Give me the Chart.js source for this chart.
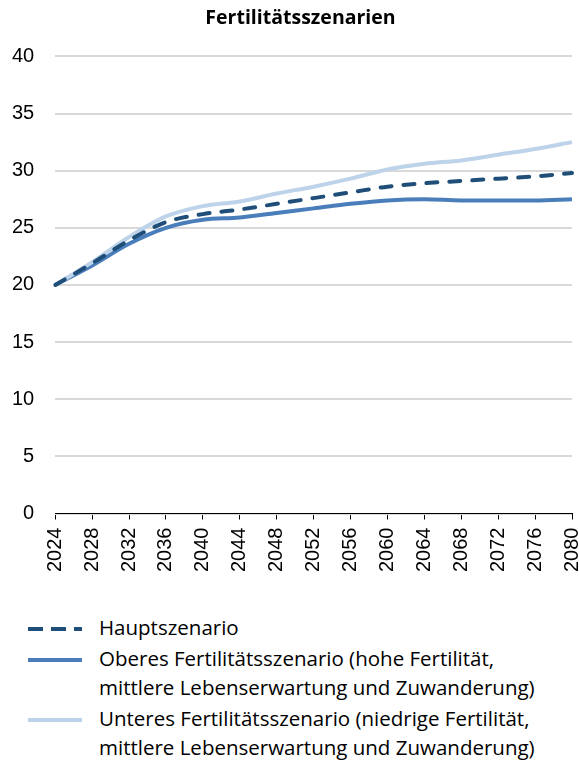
<!DOCTYPE html>
<html lang="de">
  <head>
    <meta charset="UTF-8" />
    <title>Fertilitätsszenarien</title>
    <script src="https://cdn.jsdelivr.net/npm/chart.js"></script>
    <style>
      body {
        margin: 0;
        background: #fff;
        width: 579px;
        height: 764px;
        overflow: hidden;
        position: relative;
      }
      .chart-box {
        position: absolute;
        left: -19px;
        top: 0;
        width: 623px;
        height: 600px;
      }
      .legend {
        position: absolute;
        left: 28px;
        top: 613px;
        font-family: "Open Sans", sans-serif;
        font-size: 20.5px;
        color: #000;
        line-height: 29px;
      }
      .legend-item {
        display: flex;
        align-items: flex-start;
        margin-bottom: 2px;
      }
      .legend-item svg {
        flex: none;
        margin-top: 12px;
        margin-right: 15px;
      }
    </style>
  </head>
  <body>
    <div class="chart-box">
      <canvas id="chart"></canvas>
    </div>
    <div class="legend" id="legend"></div>

    <script>
      const years = [
        "2024", "2028", "2032", "2036", "2040", "2044", "2048", "2052",
        "2056", "2060", "2064", "2068", "2072", "2076", "2080",
      ];
      const yTicks = [0, 5, 10, 15, 20, 25, 30, 35, 40];

      const hauptszenario = [
        20.0, 21.9, 23.9, 25.5, 26.2, 26.6, 27.1, 27.6, 28.1, 28.6, 28.9,
        29.1, 29.3, 29.5, 29.8,
      ];
      const oberes = [
        20.0, 21.7, 23.6, 25.0, 25.7, 25.9, 26.3, 26.7, 27.1, 27.4, 27.5,
        27.4, 27.4, 27.4, 27.5,
      ];
      const unteres = [
        20.0, 22.0, 24.2, 26.0, 26.9, 27.3, 28.0, 28.6, 29.3, 30.1, 30.6,
        30.9, 31.4, 31.9, 32.5,
      ];

      const seriesNames = [
        "Hauptszenario",
        ["Oberes Fertilitätsszenario (hohe Fertilität,", "mittlere Lebenserwartung und Zuwanderung)"],
        ["Unteres Fertilitätsszenario (niedrige Fertilität,", "mittlere Lebenserwartung und Zuwanderung)"],
      ];
      const colors = ["#1f4e79", "#4a7ebb", "#bdd3ea"];

      const tickFont = { family: "'Liberation Sans', Arial, sans-serif", size: 20 };

      new Chart(document.getElementById("chart"), {
        type: "line",
        data: {
          labels: years,
          datasets: [
            {
              label: "Hauptszenario",
              data: hauptszenario,
              borderColor: colors[0],
              borderDash: [11, 12],
              borderCapStyle: "round",
              order: 1,
            },
            {
              label: "Unteres",
              data: unteres,
              borderColor: colors[2],
              order: 2,
            },
            {
              label: "Oberes",
              data: oberes,
              borderColor: colors[1],
              order: 3,
            },
          ],
        },
        options: {
          responsive: true,
          maintainAspectRatio: false,
          animation: false,
          layout: { padding: { left: 10, right: -6, top: 0, bottom: 20 } },
          elements: {
            point: { radius: 0 },
            line: { borderWidth: 4, tension: 0.4, cubicInterpolationMode: "monotone", fill: false },
          },
          plugins: {
            legend: { display: false },
            tooltip: { enabled: false },
            title: {
              display: true,
              text: "Fertilitätsszenarien",
              color: "#000",
              font: { family: "'Open Sans', sans-serif", size: 19.5, weight: "bold" },
              padding: { top: 7, bottom: 26 },
            },
          },
          scales: {
            x: {
              offset: false,
              grid: {
                drawOnChartArea: false,
                drawTicks: true,
                tickLength: 6,
                color: "#000",
              },
              border: { color: "#000", width: 1 },
              ticks: {
                color: "#000",
                font: tickFont,
                minRotation: 90,
                maxRotation: 90,
                autoSkip: false,
                padding: 8,
              },
            },
            y: {
              min: 0,
              max: 40,
              afterBuildTicks: (axis) => {
                axis.ticks = yTicks.map((v) => ({ value: v }));
              },
              grid: { color: "#d9d9d9", lineWidth: 2, drawTicks: false },
              border: { display: false },
              ticks: { color: "#000", font: tickFont, padding: 21 },
            },
          },
        },
      });

      // Legende als HTML, weil die Einträge umbrechen
      const legend = document.getElementById("legend");
      seriesNames.forEach((name, i) => {
        const item = document.createElement("div");
        item.className = "legend-item";
        const dash = i === 0 ? 'stroke-dasharray="15 8"' : "";
        item.innerHTML =
          '<svg width="56" height="8"><line x1="0" y1="4" x2="54" y2="4" stroke="' +
          colors[i] + '" stroke-width="4" ' + dash + "/></svg>" +
          "<div>" + [].concat(name).join("<br>") + "</div>";
        legend.appendChild(item);
      });
    </script>
  </body>
</html>
